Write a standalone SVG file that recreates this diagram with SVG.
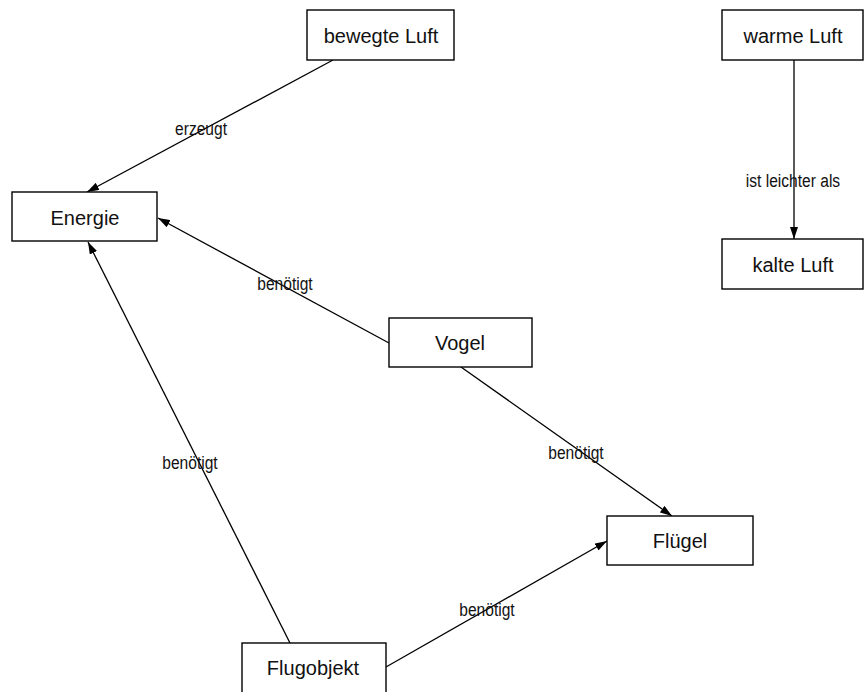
<svg xmlns="http://www.w3.org/2000/svg" width="864" height="692" viewBox="0 0 864 692">
<style>
.box{fill:#fff;stroke:#000;stroke-width:1.4}
.nt{font-family:"Liberation Sans",Arial,sans-serif;font-size:20px;fill:#111;text-anchor:middle}
.lt{font-family:"Liberation Sans",Arial,sans-serif;font-size:19px;fill:#111;text-anchor:middle}
.ln{stroke:#000;stroke-width:1.3;fill:none;marker-end:url(#ah)}
</style>
<defs>
<marker id="ah" viewBox="0 0 12 8" refX="12" refY="4" markerWidth="12" markerHeight="8" markerUnits="userSpaceOnUse" orient="auto">
<path d="M0,0 L12,4 L0,8 Z" fill="#000"/>
</marker>
</defs>
<rect width="864" height="692" fill="#fff"/>
<g id="connectors">
<line class="ln" x1="333" y1="60" x2="87" y2="192"/>
<line class="ln" x1="389" y1="343" x2="158" y2="218"/>
<line class="ln" x1="290" y1="643" x2="88" y2="242"/>
<line class="ln" x1="461" y1="367" x2="672" y2="516"/>
<line class="ln" x1="386" y1="667" x2="607" y2="541"/>
<line class="ln" x1="794" y1="60" x2="794" y2="239"/>
<text class="lt" transform="translate(201,135) scale(0.82,1)">erzeugt</text>
<text class="lt" transform="translate(285,290) scale(0.82,1)">benötigt</text>
<text class="lt" transform="translate(190,469) scale(0.82,1)">benötigt</text>
<text class="lt" transform="translate(576,459) scale(0.82,1)">benötigt</text>
<text class="lt" transform="translate(487,616) scale(0.82,1)">benötigt</text>
<text class="lt" transform="translate(793,187) scale(0.82,1)">ist leichter als</text>
</g>
<g id="bewegteLuft"><rect class="box" x="307" y="10" width="147" height="50"/><text class="nt" x="381" y="43">bewegte Luft</text></g>
<g id="warmeLuft"><rect class="box" x="722" y="10" width="141" height="50"/><text class="nt" x="793" y="43">warme Luft</text></g>
<g id="kalteLuft"><rect class="box" x="722" y="239" width="141" height="50"/><text class="nt" x="793" y="272">kalte Luft</text></g>
<g id="Energie"><rect class="box" x="12" y="192" width="145" height="49"/><text class="nt" x="85" y="225">Energie</text></g>
<g id="Vogel"><rect class="box" x="389" y="318" width="143" height="49"/><text class="nt" x="460" y="350">Vogel</text></g>
<g id="Fluegel"><rect class="box" x="607" y="516" width="146" height="49"/><text class="nt" x="680" y="548">Flügel</text></g>
<g id="Flugobjekt"><rect class="box" x="242" y="643" width="144" height="50"/><text class="nt" x="313" y="675">Flugobjekt</text></g>
</svg>
